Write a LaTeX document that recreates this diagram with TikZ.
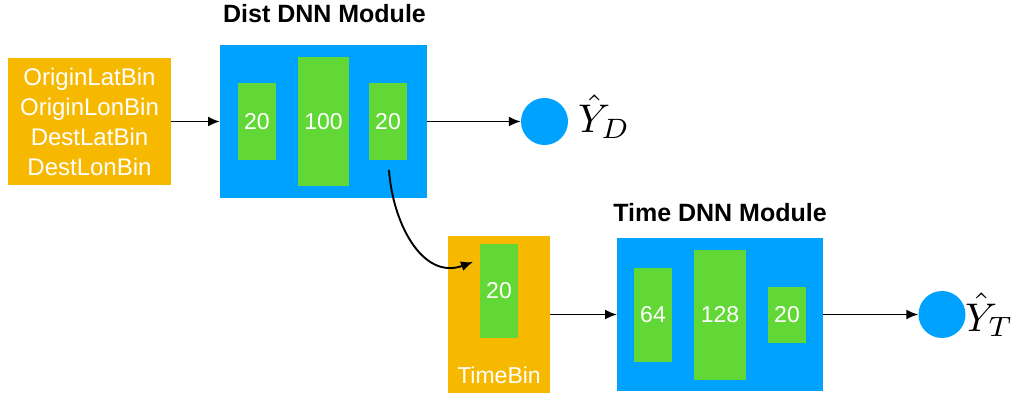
\documentclass[tikz,border=0pt]{standalone}
\usepackage{fontspec}
\setmainfont{Liberation Sans}
\usetikzlibrary{arrows.meta}
\definecolor{korange}{HTML}{F7B900}
\definecolor{kblue}{HTML}{00A2FF}
\definecolor{kgreen}{HTML}{61D836}
\tikzset{
  box/.style={rectangle, draw=none, inner sep=0pt, outer sep=0pt},
  obox/.style={box, fill=korange},
  bbox/.style={box, fill=kblue},
  gbox/.style={box, fill=kgreen, text=white, font=\fontsize{23}{28}\selectfont},
  title/.style={font=\bfseries\fontsize{25}{30}\selectfont, text=black},
  outc/.style={circle, fill=kblue, draw=none, inner sep=0pt, minimum size=47pt},
  arr/.style={line width=1.9pt, -{Latex[length=12pt,width=10pt]}},
  ylab/.style={anchor=base west, inner sep=0pt}
}
\begin{document}
\begin{tikzpicture}[x=1pt,y=-1pt]
\useasboundingbox (0,0) rectangle (1013,398);
% input box
\node[obox, minimum width=163pt, minimum height=127pt, text=white, align=center,
      font=\fontsize{24}{30}\selectfont] (in) at (89.5,121.5)
  {OriginLatBin\\OriginLonBin\\DestLatBin\\DestLonBin};
% Dist DNN
\node[bbox, minimum width=207pt, minimum height=153pt] (dist) at (323.5,121.5) {};
\node[title] (distt) at (324.5,14) {Dist DNN Module};
\node[gbox, minimum width=38pt, minimum height=77pt] (d1) at (257,121.5) {20};
\node[gbox, minimum width=51pt, minimum height=129pt] (d2) at (323.5,121.5) {100};
\node[gbox, minimum width=38pt, minimum height=77pt] (d3) at (388,121.5) {20};
\node[outc] (yd) at (544.5,121.5) {};
\node[ylab] (ydl) at (578,133) {\scalebox{4}{$\hat{Y}_D$}};
% Time bin
\node[obox, minimum width=102pt, minimum height=157pt] (tb) at (499,314.5) {};
\node[gbox, minimum width=38pt, minimum height=94pt] (t0) at (499,291) {20};
\node[text=white, font=\fontsize{23}{28}\selectfont, inner sep=0pt] (tbl) at (499,375) {TimeBin};
% Time DNN
\node[bbox, minimum width=206pt, minimum height=153pt] (time) at (720,314.5) {};
\node[title] (timet) at (720,213) {Time DNN Module};
\node[gbox, minimum width=38pt, minimum height=94pt] (t1) at (653,315) {64};
\node[gbox, minimum width=52pt, minimum height=130pt] (t2) at (720,315) {128};
\node[gbox, minimum width=38pt, minimum height=56pt] (t3) at (787,315) {20};
\node[outc] (yt) at (942,314.5) {};
\node[ylab] (ytl) at (965,331) {\scalebox{4}{$\hat{Y}_T$}};
% connectors
\draw[arr] (in.east) -- (dist.west);
\draw[arr] (dist.east) -- (yd.west);
\draw[arr] (tb.east) -- (time.west);
\draw[arr] (time.east) -- (yt.west);
\coordinate (cs) at (389,170);
\coordinate (ce) at (473,262);
\draw[arr] (cs) to[out=-86, in=200, looseness=1.1] (ce);
\end{tikzpicture}
\end{document}
